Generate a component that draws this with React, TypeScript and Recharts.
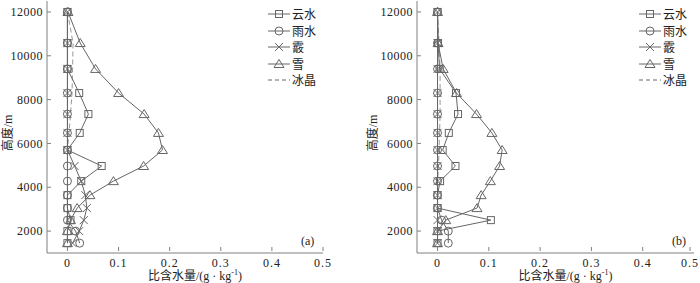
import { LineChart, Line, XAxis, YAxis } from "recharts";

// model levels (m)
const heights = [12000, 10580, 9400, 8300, 7340, 6480, 5700, 4970, 4280, 3640, 3050, 2500, 2000, 1450];

// panel (a)
const cloudA = [0, 0, 0, 0.023, 0.041, 0.024, 0, 0.067, 0.027, 0, 0, 0.006, 0, 0];
const rainA = [0, 0, 0, 0, 0, 0, 0, 0, 0, 0, 0, 0, 0.016, 0.024];
const graupelA = [0, 0, 0, 0, 0, 0, 0, 0.014, 0.027, 0.035, 0.038, 0.032, 0.023, 0.01];
const snowA = [0.001, 0.025, 0.055, 0.1, 0.15, 0.178, 0.186, 0.149, 0.09, 0.044, 0.019, 0.006, 0, 0];
const iceA = [0, 0.011, 0.01, 0.009, 0.006, 0.003, 0, 0, 0, 0, 0, 0, 0, 0];

// panel (b)
const cloudB = [0, 0.001, 0.004, 0.036, 0.04, 0.022, 0.01, 0.035, 0.005, 0, 0, 0.104, 0, 0];
const rainB = [0, 0, 0, 0, 0, 0, 0, 0, 0, 0, 0, 0.008, 0.021, 0.021];
const graupelB = [0, 0, 0, 0, 0, 0, 0, 0, 0, 0, 0, 0, 0, 0];
const snowB = [0, 0.001, 0.011, 0.037, 0.076, 0.106, 0.126, 0.121, 0.103, 0.085, 0.077, 0.016, 0, 0];
const iceB = [0, 0.003, 0.005, 0.005, 0.005, 0.004, 0.003, 0.002, 0, 0, 0, 0, 0, 0];

const xTicks = [0, 0.1, 0.2, 0.3, 0.4, 0.5];
const yTicks = [2000, 4000, 6000, 8000, 10000, 12000];

const legendItems = [
  { key: "cloud", label: "云水", kind: "square" },
  { key: "rain", label: "雨水", kind: "circle" },
  { key: "graupel", label: "霰", kind: "x" },
  { key: "snow", label: "雪", kind: "triangle" },
  { key: "ice", label: "冰晶", kind: "dash" },
];

const LINE = "#666";
const FRAME = "#808080";
const SERIF = '"Liberation Serif", "Times New Roman", serif';
const CJK = '"Liberation Serif", "Noto Sans CJK SC", serif';

function Marker({ cx, cy, kind }: { cx: number; cy: number; kind: string }) {
  const s = { fill: "none", stroke: LINE, strokeWidth: 1 };
  if (kind === "square") return <rect x={cx - 3.5} y={cy - 3.5} width={7} height={7} {...s} />;
  if (kind === "circle") return <circle cx={cx} cy={cy} r={4} {...s} />;
  if (kind === "x")
    return (
      <g {...s}>
        <line x1={cx - 4} y1={cy - 4} x2={cx + 4} y2={cy + 4} />
        <line x1={cx - 4} y1={cy + 4} x2={cx + 4} y2={cy - 4} />
      </g>
    );
  if (kind === "triangle")
    return <polygon points={`${cx},${cy - 4.5} ${cx - 5},${cy + 3.5} ${cx + 5},${cy + 3.5}`} {...s} />;
  return <g />;
}

const dotFor = (kind: string) => (p: any) =>
  <Marker key={`${kind}-${p.index}`} cx={p.cx} cy={p.cy} kind={kind} />;

const LeftTick = (p: any) => (
  <g>
    <text x={p.x} y={p.y} dy="0.35em" textAnchor="end" fontFamily={SERIF} fontSize={12} fill="#222" letterSpacing={0.5}>
      {p.payload.value}
    </text>
    <line x1={p.x + 4} x2={p.x + 8} y1={p.y} y2={p.y} stroke={FRAME} />
  </g>
);

const BottomTick = (p: any) => (
  <g>
    <text x={p.x} y={p.y + 3} dy="0.71em" textAnchor="middle" fontFamily={SERIF} fontSize={12} fill="#222" letterSpacing={1}>
      {p.payload.value}
    </text>
    <line x1={p.x} x2={p.x} y1={p.y - 4} y2={p.y - 8} stroke={FRAME} />
  </g>
);

const TopTick = (p: any) => <line x1={p.x} x2={p.x} y1={p.y} y2={p.y + 4} stroke={FRAME} />;
const RightTick = (p: any) => <line x1={p.x} x2={p.x - 4} y1={p.y} y2={p.y} stroke={FRAME} />;

function Legend({ left }: { left: number }) {
  return (
    <div style={{ position: "absolute", left, top: 6 }}>
      {legendItems.map((it) => (
        <div key={it.key} style={{ display: "flex", alignItems: "center", height: 16.5 }}>
          <svg width={22} height={12}>
            <line x1={0} x2={22} y1={6} y2={6} stroke={LINE} strokeDasharray={it.kind === "dash" ? "4 3" : undefined} />
            <Marker cx={11} cy={6} kind={it.kind} />
          </svg>
          <span style={{ fontFamily: CJK, fontSize: 12, color: "#222", marginLeft: 2 }}>{it.label}</span>
        </div>
      ))}
    </div>
  );
}

type PanelProps = {
  left: number;
  axisWidth: number;
  right: number;
  titleX: number;
  cloud: number[];
  rain: number[];
  graupel: number[];
  snow: number[];
  ice: number[];
  tag: string;
};

function Panel({ left, axisWidth, right, titleX, cloud, rain, graupel, snow, ice, tag }: PanelProps) {
  const rows = heights.map((h, i) => ({
    h,
    cloud: cloud[i],
    rain: rain[i],
    graupel: graupel[i],
    snow: snow[i],
    ice: ice[i],
  }));
  const plotLeft = axisWidth;
  const plotRight = 350 - right;
  return (
    <div style={{ position: "absolute", left, top: 0, width: 350, height: 283 }}>
      <LineChart width={350} height={283} layout="vertical" data={rows} margin={{ top: 1, right, bottom: 0, left: 0 }}>
        <XAxis
          type="number"
          domain={[-0.04, 0.5]}
          ticks={xTicks}
          allowDataOverflow
          height={30}
          tickSize={0}
          tickLine={false}
          axisLine={{ stroke: FRAME }}
          tick={<BottomTick />}
        />
        <XAxis
          xAxisId="top"
          orientation="top"
          type="number"
          domain={[-0.04, 0.5]}
          ticks={xTicks}
          allowDataOverflow
          height={0}
          tickSize={0}
          tickMargin={0}
          tickLine={false}
          axisLine={{ stroke: FRAME }}
          tick={<TopTick />}
        />
        <YAxis
          type="number"
          dataKey="h"
          domain={[1000, 12500]}
          ticks={yTicks}
          reversed
          allowDataOverflow
          width={axisWidth}
          tickSize={0}
          tickMargin={4}
          tickLine={false}
          axisLine={{ stroke: FRAME }}
          tick={<LeftTick />}
        />
        <YAxis
          yAxisId="right"
          orientation="right"
          type="number"
          domain={[1000, 12500]}
          ticks={yTicks}
          reversed
          allowDataOverflow
          width={0}
          tickSize={0}
          tickMargin={0}
          tickLine={false}
          axisLine={{ stroke: FRAME }}
          tick={<RightTick />}
        />
        <Line dataKey="ice" stroke="#999" strokeDasharray="5 3" dot={false} activeDot={false} isAnimationActive={false} />
        <Line dataKey="rain" stroke={LINE} dot={dotFor("circle")} activeDot={false} isAnimationActive={false} />
        <Line dataKey="graupel" stroke={LINE} dot={dotFor("x")} activeDot={false} isAnimationActive={false} />
        <Line dataKey="cloud" stroke={LINE} dot={dotFor("square")} activeDot={false} isAnimationActive={false} />
        <Line dataKey="snow" stroke={LINE} dot={dotFor("triangle")} activeDot={false} isAnimationActive={false} />
      </LineChart>
      <div
        style={{
          position: "absolute",
          left: titleX - 35,
          top: 133 - 8,
          width: 70,
          textAlign: "center",
          transform: "rotate(-90deg)",
          fontFamily: CJK,
          fontSize: 12,
          color: "#222",
          lineHeight: "16px",
        }}
      >
        高度/m
      </div>
      <div
        style={{
          position: "absolute",
          left: (plotLeft + plotRight) / 2 - 80 + 10,
          top: 270,
          width: 160,
          textAlign: "center",
          fontFamily: CJK,
          fontSize: 12,
          color: "#222",
          lineHeight: "13px",
        }}
      >
        比含水量/(g · kg<sup style={{ fontSize: 8, lineHeight: 0 }}>-1</sup>)
      </div>
      <div style={{ position: "absolute", left: plotRight - 22, top: 234, fontFamily: SERIF, fontSize: 12, color: "#222" }}>
        {tag}
      </div>
      <Legend left={plotRight - 55} />
    </div>
  );
}

export default function App() {
  return (
    <div style={{ position: "absolute", left: 0, top: 0, width: 700, height: 283, background: "#fff" }}>
      <Panel left={0} axisWidth={47} right={27} titleX={8} cloud={cloudA} rain={rainA} graupel={graupelA} snow={snowA} ice={iceA} tag="(a)" />
      <Panel left={350} axisWidth={67} right={6} titleX={23} cloud={cloudB} rain={rainB} graupel={graupelB} snow={snowB} ice={iceB} tag="(b)" />
    </div>
  );
}
